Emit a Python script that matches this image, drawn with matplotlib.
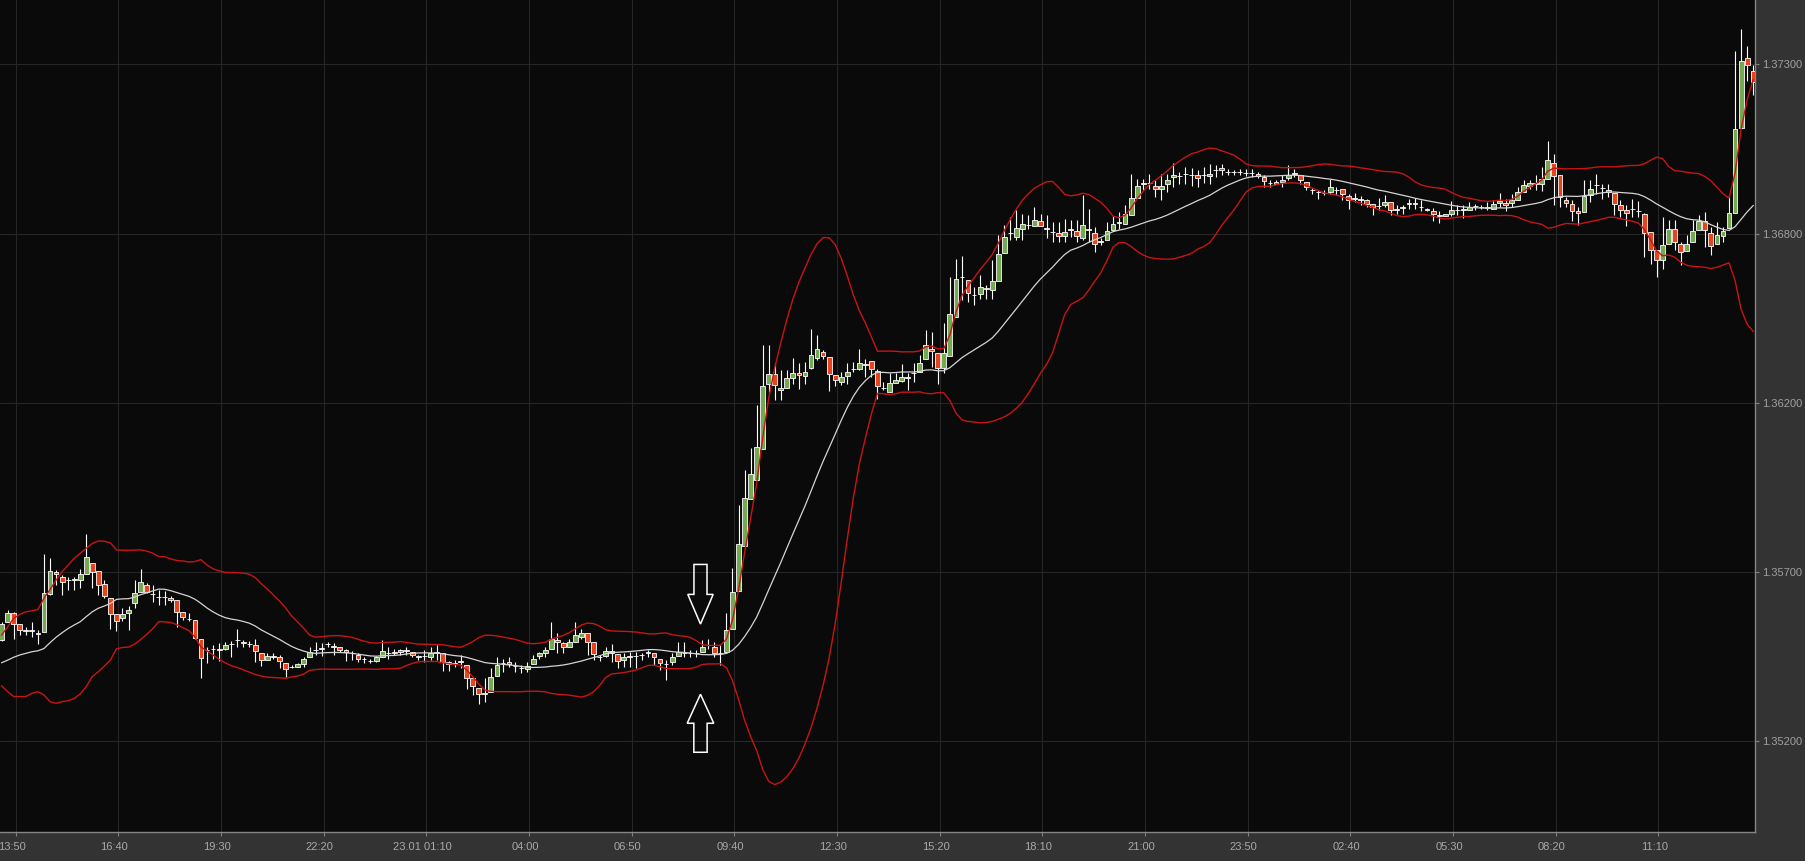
import numpy as np
import pandas as pd
import matplotlib
matplotlib.use("Agg")
import matplotlib.pyplot as plt
from matplotlib.patches import Polygon
from matplotlib.transforms import ScaledTranslation

# ---------------- data (prices as pips above 1.35200) ----------------
BASE = 1.35200
PIP = 0.0001

open_pips = [
    31.5, 36.8, 39.6, 36.2, 34.4, 34.6, 33.4, 33.7, 45.6, 52.5,
    51.0, 49.9, 50.1, 49.9, 51.8, 55.4, 52.8, 48.6, 44.3, 39.4,
    38.1, 39.8, 42.7, 46.3, 48.4, 45.7, 44.7, 44.6, 44.5, 43.9,
    39.9, 37.8, 37.5, 31.8, 28.1, 28.4, 28.4, 28.7, 30.0, 31.5,
    30.5, 30.1, 29.9, 27.4, 25.1, 26.2, 26.2, 24.3, 23.1, 23.1,
    23.8, 26.0, 28.1, 28.7, 30.0, 29.3, 29.3, 28.2, 27.4, 26.7,
    25.3, 24.8, 24.8, 26.2, 27.2, 27.5, 27.5, 28.0, 27.5, 26.2,
    26.4, 26.2, 27.4, 27.2, 24.6, 24.1, 24.6, 23.6, 19.7, 16.6,
    15.0, 15.3, 20.3, 24.1, 24.4, 23.3, 22.5, 22.3, 23.8, 26.4,
    27.2, 28.4, 31.5, 30.3, 29.1, 30.6, 32.4, 33.4, 30.6, 26.0,
    26.4, 28.0, 27.0, 25.1, 26.2, 26.4, 26.7, 27.4, 27.4, 25.6,
    23.8, 24.6, 26.4, 27.2, 27.2, 27.2, 27.5, 29.8, 29.3, 27.2,
    27.7, 34.9, 46.6, 60.5, 75.0, 81.0, 90.5, 110.9, 113.8, 108.9,
    109.6, 112.8, 114.1, 113.2, 115.9, 118.9, 120.8, 119.2, 113.5, 111.5,
    113.2, 115.4, 115.6, 116.8, 118.0, 114.9, 109.6, 108.3, 111.2, 111.7,
    112.8, 114.1, 114.6, 118.5, 121.6, 120.3, 115.9, 119.4, 131.6, 144.0,
    143.2, 138.4, 138.6, 140.6, 139.9, 142.7, 151.5, 157.7, 156.4, 159.0,
    160.1, 159.8, 161.3, 159.0, 158.0, 157.8, 156.6, 158.7, 158.3, 156.2,
    158.7, 157.7, 154.9, 155.4, 158.7, 160.9, 160.6, 163.2, 168.6, 173.0,
    173.2, 172.3, 171.4, 173.0, 175.1, 175.3, 175.9, 175.8, 175.8, 175.6,
    175.3, 177.1, 177.8, 176.6, 176.6, 176.6, 176.4, 176.3, 176.1, 175.1,
    173.2, 173.5, 173.5, 174.7, 176.1, 175.8, 173.5, 170.9, 170.4, 170.1,
    170.4, 170.9, 171.3, 169.2, 168.3, 168.0, 168.0, 166.8, 166.0, 166.5,
    167.3, 164.9, 165.5, 166.8, 167.1, 165.8, 164.9, 164.5, 163.2, 162.9,
    163.7, 164.7, 164.9, 164.7, 166.0, 165.8, 165.5, 165.2, 167.1, 167.1,
    167.1, 167.9, 170.5, 172.2, 173.0, 172.8, 174.5, 179.4, 175.6, 168.0,
    166.8, 164.5, 164.2, 169.4, 172.6, 171.6, 171.1, 170.1, 166.3, 164.7,
    165.0, 164.5, 163.7, 158.0, 152.3, 149.2, 154.2, 159.0, 154.2, 152.0,
    154.9, 158.5, 161.3, 157.8, 154.2, 156.6, 159.3, 163.9, 190.4, 212.0, 208.1,
]

high_pips = [
    37.0, 40.8, 40.1, 36.2, 35.5, 37.0, 34.4, 58.0, 56.7, 53.0,
    51.5, 51.0, 51.0, 53.3, 64.4, 55.4, 52.8, 49.9, 44.3, 39.4,
    41.2, 41.9, 49.9, 53.3, 48.9, 48.4, 46.8, 46.5, 45.0, 43.9,
    40.1, 39.6, 37.5, 31.8, 29.3, 29.8, 30.3, 30.8, 31.1, 34.9,
    31.3, 31.1, 31.8, 27.4, 27.2, 27.2, 26.7, 24.3, 23.6, 24.1,
    26.2, 29.3, 30.8, 30.5, 30.8, 30.5, 29.3, 28.4, 28.0, 27.2,
    26.2, 25.3, 26.4, 31.5, 29.1, 28.7, 28.7, 29.1, 27.5, 26.7,
    28.2, 29.3, 29.8, 27.2, 24.9, 25.1, 26.7, 23.6, 19.7, 16.6,
    19.4, 22.5, 26.2, 25.6, 26.2, 24.6, 23.6, 24.6, 26.7, 27.7,
    29.3, 37.0, 33.6, 30.8, 31.8, 37.0, 34.9, 33.6, 30.6, 26.7,
    29.3, 30.1, 27.0, 27.2, 27.7, 27.7, 27.2, 28.2, 27.4, 25.6,
    25.1, 27.2, 30.8, 30.8, 28.2, 28.2, 31.3, 31.8, 30.8, 29.8,
    39.8, 53.6, 73.2, 84.1, 90.8, 104.2, 122.8, 122.8, 117.2, 115.1,
    115.1, 119.0, 117.2, 117.7, 128.0, 125.9, 121.3, 119.2, 113.5, 114.6,
    117.2, 117.7, 121.8, 118.7, 118.0, 115.6, 111.5, 114.1, 114.1, 116.9,
    114.3, 117.2, 119.7, 127.5, 127.0, 120.3, 129.8, 144.0, 149.7, 150.4,
    143.2, 140.9, 144.6, 141.4, 149.2, 157.0, 160.1, 162.6, 164.7, 163.7,
    163.2, 165.8, 163.7, 163.2, 161.1, 161.1, 162.1, 161.6, 161.6, 169.4,
    165.2, 159.5, 156.1, 161.1, 162.9, 164.2, 166.3, 176.1, 174.5, 174.5,
    176.1, 174.2, 176.1, 176.1, 179.4, 176.6, 178.2, 178.0, 177.3, 178.2,
    179.0, 178.7, 179.0, 177.6, 177.3, 177.6, 177.6, 177.6, 176.6, 175.6,
    174.0, 174.0, 175.6, 178.7, 177.6, 175.8, 173.5, 171.6, 171.1, 170.9,
    174.5, 171.9, 171.3, 169.9, 170.1, 169.2, 168.3, 166.8, 168.6, 169.4,
    167.3, 166.3, 166.3, 168.3, 168.5, 168.0, 165.5, 165.5, 164.5, 163.5,
    167.5, 166.3, 166.3, 167.3, 166.8, 166.3, 167.2, 167.8, 170.1, 168.3,
    169.9, 171.9, 174.2, 174.2, 175.6, 178.2, 186.1, 182.3, 175.6, 168.8,
    167.8, 165.8, 174.0, 174.0, 175.9, 173.0, 173.0, 170.1, 167.8, 166.3,
    168.3, 167.5, 163.9, 158.0, 152.3, 162.6, 161.6, 161.6, 154.9, 157.0,
    161.8, 163.4, 164.2, 159.5, 161.1, 159.5, 169.4, 214.3, 221.1, 215.6, 209.9,
]

low_pips = [
    31.0, 36.8, 31.8, 32.9, 32.9, 32.4, 30.1, 33.7, 45.3, 48.4,
    45.3, 47.0, 47.0, 47.4, 51.8, 47.4, 45.3, 44.3, 34.9, 34.1,
    37.2, 34.4, 41.2, 46.3, 45.8, 43.2, 42.2, 42.2, 43.2, 35.5,
    37.5, 37.2, 31.8, 19.6, 24.1, 25.3, 24.9, 28.2, 26.2, 29.3,
    29.3, 29.1, 24.6, 23.4, 25.1, 25.3, 22.5, 20.0, 22.5, 23.1,
    23.1, 26.0, 26.7, 26.4, 29.3, 26.7, 27.7, 24.8, 25.1, 24.6,
    24.1, 24.3, 24.6, 26.0, 25.3, 26.7, 26.7, 26.7, 26.0, 25.1,
    24.6, 25.1, 25.1, 21.7, 21.7, 23.1, 22.5, 16.0, 14.3, 11.4,
    12.2, 15.3, 20.3, 21.5, 23.1, 21.5, 21.2, 21.5, 23.8, 25.6,
    26.2, 28.4, 27.2, 27.2, 29.1, 30.6, 31.8, 26.7, 25.1, 24.9,
    26.0, 24.6, 22.5, 23.1, 23.1, 22.5, 25.1, 26.2, 23.6, 22.0,
    18.9, 23.6, 26.4, 26.2, 26.2, 26.2, 27.5, 28.7, 26.0, 23.6,
    27.5, 34.9, 46.6, 60.5, 75.0, 81.0, 90.5, 108.4, 105.8, 105.8,
    109.6, 110.9, 109.4, 110.9, 115.6, 118.2, 118.7, 108.6, 110.1, 110.4,
    110.9, 114.6, 115.1, 113.0, 113.0, 106.3, 109.1, 108.3, 111.2, 111.5,
    108.9, 111.5, 114.6, 118.5, 116.1, 110.9, 114.1, 119.4, 131.6, 136.8,
    136.3, 135.2, 137.1, 137.1, 137.3, 142.7, 151.5, 155.4, 155.4, 155.4,
    159.0, 159.8, 159.8, 156.2, 154.9, 154.9, 154.9, 156.4, 154.9, 155.4,
    154.9, 151.8, 153.9, 155.4, 158.7, 159.0, 160.6, 163.2, 168.6, 170.9,
    171.4, 168.8, 168.0, 170.4, 172.0, 173.0, 173.0, 172.2, 172.0, 173.2,
    173.0, 175.1, 175.6, 175.6, 175.6, 175.6, 175.3, 175.1, 174.9, 172.0,
    172.0, 173.0, 172.0, 174.0, 175.1, 173.0, 170.9, 169.9, 168.3, 169.4,
    169.9, 169.4, 167.8, 165.0, 167.3, 166.3, 165.8, 163.2, 164.7, 165.8,
    163.2, 163.7, 163.5, 165.2, 165.0, 164.5, 164.5, 161.3, 160.8, 162.9,
    162.9, 163.2, 162.4, 164.7, 164.9, 165.2, 164.7, 165.0, 165.8, 164.4,
    165.8, 167.9, 170.5, 171.4, 170.9, 170.7, 174.5, 166.3, 165.8, 165.8,
    161.3, 160.1, 164.2, 167.3, 169.9, 168.3, 168.8, 163.2, 162.6, 159.8,
    162.6, 162.6, 150.2, 148.2, 144.0, 146.6, 154.2, 152.3, 147.7, 152.0,
    154.9, 158.5, 153.3, 150.8, 154.2, 155.0, 159.3, 163.9, 190.4, 204.8, 200.4,
]

close_pips = [
    36.2, 39.6, 36.2, 34.4, 34.2, 34.1, 33.2, 45.8, 52.8, 51.8,
    49.4, 50.0, 50.2, 51.7, 57.0, 52.5, 48.4, 45.1, 39.3, 37.2,
    39.4, 40.8, 45.8, 49.4, 46.1, 45.6, 44.6, 44.7, 43.9, 40.1,
    38.4, 37.9, 32.1, 25.9, 28.2, 28.5, 28.3, 29.7, 30.1, 31.4,
    30.6, 30.0, 27.9, 25.1, 26.4, 26.3, 24.9, 22.3, 23.0, 23.8,
    25.6, 27.7, 28.2, 28.8, 30.1, 29.4, 28.2, 27.5, 27.3, 25.6,
    25.4, 24.7, 26.0, 28.0, 27.3, 27.4, 28.2, 28.1, 26.7, 26.3,
    26.3, 27.2, 27.5, 24.4, 23.9, 24.0, 24.7, 19.7, 17.1, 14.6,
    14.5, 20.0, 23.6, 24.2, 23.9, 23.4, 22.6, 23.3, 25.3, 27.2,
    28.2, 31.8, 30.6, 29.3, 30.8, 32.9, 33.4, 30.8, 27.0, 26.1,
    28.0, 27.2, 24.9, 26.2, 26.5, 26.5, 26.8, 27.5, 26.0, 24.1,
    23.9, 26.0, 27.7, 27.3, 27.3, 27.3, 29.3, 29.9, 27.4, 27.3,
    34.6, 46.3, 61.0, 75.3, 82.8, 91.3, 110.1, 113.8, 110.4, 109.6,
    112.8, 114.1, 113.5, 114.4, 119.9, 121.8, 119.5, 113.8, 112.2, 113.0,
    114.4, 115.5, 117.2, 116.9, 115.6, 110.1, 109.7, 111.2, 112.0, 113.0,
    112.9, 114.2, 117.2, 122.8, 121.0, 115.9, 120.3, 132.4, 143.5, 144.1,
    138.9, 138.5, 140.9, 140.3, 142.8, 151.3, 156.4, 157.8, 159.3, 160.4,
    160.2, 161.8, 159.8, 159.1, 158.1, 156.8, 158.0, 158.8, 156.6, 160.2,
    158.8, 154.4, 155.1, 158.3, 160.6, 161.0, 163.5, 168.6, 172.2, 173.1,
    173.3, 171.4, 172.3, 174.0, 175.8, 175.4, 176.0, 175.7, 174.7, 175.7,
    176.1, 177.2, 177.1, 176.7, 176.5, 176.7, 176.3, 176.4, 175.3, 173.8,
    173.3, 173.0, 174.2, 175.8, 176.2, 174.0, 171.9, 171.0, 170.3, 170.2,
    171.9, 171.0, 169.7, 168.0, 168.4, 168.1, 166.8, 165.8, 166.1, 167.3,
    164.9, 165.0, 165.6, 166.9, 166.6, 165.9, 165.0, 163.7, 162.9, 163.5,
    164.9, 164.8, 165.0, 165.8, 166.1, 165.9, 165.6, 166.6, 167.6, 166.4,
    167.8, 170.4, 172.6, 173.3, 173.1, 174.5, 180.4, 175.3, 168.9, 167.1,
    164.4, 163.9, 169.1, 171.4, 172.7, 171.7, 170.4, 166.8, 164.7, 164.0,
    165.1, 164.6, 157.7, 152.3, 149.2, 153.9, 159.0, 154.9, 151.8, 154.4,
    158.3, 161.3, 158.5, 153.7, 157.0, 158.2, 164.0, 190.0, 211.0, 209.7, 204.5,
]

# Bollinger values for the first 19 candles (window not yet full in view)
mid_head_pips = [24.3, 25.1, 26.0, 26.7, 27.2, 27.7, 28.0, 28.7, 30.5, 32.2,
                 33.6, 34.9, 36.0, 37.0, 38.6, 40.1, 41.2, 41.9, 42.7]
upper_head_pips = [32.9, 35.5, 38.1, 39.3, 40.1, 40.4, 40.8, 44.3, 47.0, 49.9,
                   52.5, 54.6, 56.7, 58.2, 59.8, 61.3, 62.1, 62.0, 61.5]
lower_head_pips = [17.1, 15.3, 13.8, 13.8, 13.8, 14.8, 15.3, 14.3, 12.2, 11.7,
                   12.2, 12.5, 13.2, 14.6, 16.9, 20.0, 21.5, 23.3, 25.1]

time_labels = ["13:50", "16:40", "19:30", "22:20", "23.01 01:10", "04:00",
               "06:50", "09:40", "12:30", "15:20", "18:10", "21:00",
               "23:50", "02:40", "05:30", "08:20", "11:10"]
price_labels = ["1.35200", "1.35700", "1.36200", "1.36800", "1.37300"]

BB_PERIOD = 20

# arrows (x in candle index, y in pips)
down_arrow = dict(x=115.7, top=54.8, base=45.5, tip=36.3, shaft=1.08, head=2.1)
up_arrow = dict(x=115.7, tip=14.5, base=5.5, bottom=-3.5, shaft=1.1, head=2.2)

# ---------------- derived ----------------
n = len(close_pips)
assert len(open_pips) == n and len(high_pips) == n and len(low_pips) == n

o = BASE + np.array(open_pips) * PIP
h = BASE + np.array(high_pips) * PIP
l = BASE + np.array(low_pips) * PIP
c = BASE + np.array(close_pips) * PIP
x = np.arange(n)

cs = pd.Series(c)
mid = cs.rolling(BB_PERIOD).mean().to_numpy()
sd = cs.rolling(BB_PERIOD).std(ddof=0).to_numpy()
upper = mid + 2 * sd
lower = mid - 2 * sd
k = len(mid_head_pips)
mid[:k] = BASE + np.array(mid_head_pips) * PIP
upper[:k] = BASE + np.array(upper_head_pips) * PIP
lower[:k] = BASE + np.array(lower_head_pips) * PIP

# ---------------- figure ----------------
plt.rcParams['font.family'] = ['Liberation Sans', 'DejaVu Sans']
W, H = 1805, 861
fig = plt.figure(figsize=(W / 100, H / 100), dpi=100, facecolor='#333333')
ax = fig.add_axes([0, 29 / H, 1755 / W, 832 / H])
ax.set_facecolor('#0a0a0a')

GREEN = '#74a853'
RED = '#e8431b'

ax.vlines(x, l, h, color='white', linewidth=0.8, zorder=2)
body = c - o
cols = np.where(c >= o, GREEN, RED)
ax.bar(x, body, bottom=o, width=0.8, color=cols, edgecolor='white',
       linewidth=0.6, zorder=3)

ax.plot(x, upper, color='#c81414', linewidth=1.0, zorder=4)
ax.plot(x, lower, color='#c81414', linewidth=1.0, zorder=4)
ax.plot(x, mid, color='#d4d4d4', linewidth=0.9, zorder=4)


def arrow_down(a):
    xc = a['x']
    pts = [(xc - a['shaft'], a['top']), (xc + a['shaft'], a['top']),
           (xc + a['shaft'], a['base']), (xc + a['head'], a['base']),
           (xc, a['tip']), (xc - a['head'], a['base']),
           (xc - a['shaft'], a['base'])]
    return [(px, BASE + py * PIP) for px, py in pts]


def arrow_up(a):
    xc = a['x']
    pts = [(xc - a['shaft'], a['bottom']), (xc + a['shaft'], a['bottom']),
           (xc + a['shaft'], a['base']), (xc + a['head'], a['base']),
           (xc, a['tip']), (xc - a['head'], a['base']),
           (xc - a['shaft'], a['base'])]
    return [(px, BASE + py * PIP) for px, py in pts]


for pts in (arrow_down(down_arrow), arrow_up(up_arrow)):
    ax.add_patch(Polygon(pts, closed=True, fill=False, edgecolor='white',
                         linewidth=1.1, zorder=5))

# axes limits / ticks
ax.set_xlim(-0.28, 290.3)
ax.set_ylim(BASE - 28.25 * PIP, BASE + 230.0 * PIP)

xt = [2.3 + 17 * i for i in range(len(time_labels))]
ax.set_xticks(xt)
ax.set_xticklabels(time_labels)
yt = [BASE + 52.5 * PIP * i for i in range(len(price_labels))]
ax.yaxis.tick_right()
ax.set_yticks(yt)
ax.set_yticklabels(price_labels)

ax.tick_params(axis='x', colors='#808080', labelcolor='#a8a8a8',
               labelsize=8, length=3, width=0.8, pad=4)
ax.tick_params(axis='y', colors='#808080', labelcolor='#a0a0a0',
               labelsize=8, length=3, width=0.8, pad=2)

shift = ScaledTranslation(-4 / 100, 0, fig.dpi_scale_trans)
for lab in ax.get_xticklabels():
    lab.set_transform(lab.get_transform() + shift)

ax.grid(True, color='#262626', linewidth=0.8)
ax.set_axisbelow(True)

for side in ('top', 'left'):
    ax.spines[side].set_visible(False)
for side in ('bottom', 'right'):
    ax.spines[side].set_color('#858585')
    ax.spines[side].set_linewidth(1.0)

fig.savefig('out.png', dpi=100, facecolor=fig.get_facecolor())
